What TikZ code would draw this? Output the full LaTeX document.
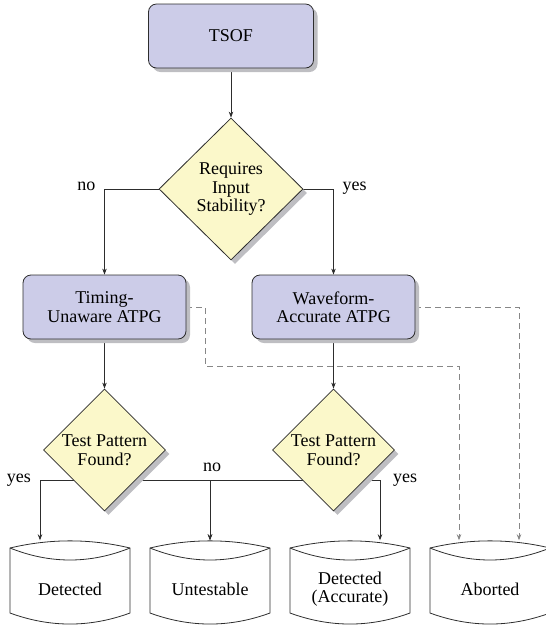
\documentclass[tikz,border=0pt]{standalone}
\usepackage{fontspec}
\setmainfont{Liberation Serif}
\usetikzlibrary{shapes.geometric,shadows,arrows.meta,calc,backgrounds}
\definecolor{boxfill}{RGB}{204,204,232}
\definecolor{decfill}{RGB}{251,248,202}
\definecolor{lineclr}{RGB}{45,45,45}
\definecolor{dashclr}{RGB}{135,135,135}
\definecolor{shadowclr}{RGB}{190,190,194}
\begin{document}
\begin{tikzpicture}[x=1pt,y=-1pt,
  font=\fontsize{18}{18.5}\selectfont,
  myshadow/.style={drop shadow={shadow xshift=4pt,shadow yshift=-4pt,fill=shadowclr,opacity=1}},
  procbox/.style={rectangle,rounded corners=8pt,draw=lineclr,line width=0.8pt,fill=boxfill,
    minimum width=164pt,minimum height=64pt,align=center,inner sep=2pt,myshadow},
  decbox/.style={diamond,draw=lineclr,line width=0.8pt,fill=decfill,align=center,inner sep=0pt,myshadow},
  termbox/.style={rectangle,draw=none,minimum width=120pt,minimum height=97pt,align=center,inner sep=0pt},
  termline/.style={draw=lineclr,line width=0.8pt},
  flow/.style={draw=lineclr,line width=0.8pt,-{Stealth[length=6pt,width=4.5pt]}},
  dflow/.style={draw=dashclr,line width=0.8pt,dash pattern=on 6pt off 4pt,-{Stealth[length=6pt,width=4.5pt]}},
  lbl/.style={inner sep=0pt}
]
\useasboundingbox (0,0) rectangle (546,625);

% process boxes and decisions
\node[procbox,minimum width=165pt] (tsof) at (231,36) {TSOF};
\node[decbox,minimum width=144pt,minimum height=142pt] (d1) at (231,189) {Requires\\Input\\Stability?};
\node[procbox,minimum width=163pt] (tim) at (104.5,307) {Timing-\\Unaware ATPG};
\node[procbox,minimum width=163pt] (wav) at (333.5,307) {Waveform-\\Accurate ATPG};
\node[decbox,minimum width=122pt,minimum height=122pt] (d2) at (104.5,450) {Test Pattern\\Found?};
\node[decbox,minimum width=122pt,minimum height=122pt] (d3) at (333.5,450) {Test Pattern\\Found?};

% terminal nodes
\node[termbox] (det) at (70,589) {Detected};
\node[termbox] (unt) at (210,589) {Untestable};
\node[termbox] (acc) at (350,589) {Detected\\(Accurate)};
\node[termbox] (abo) at (490,589) {Aborted};

\foreach \n in {det,unt,acc,abo}{
  \begin{scope}[shift={(\n.center)}]
    \draw[termline] (-60,-41) .. controls (-20,-50.5) and (20,-50.5) .. (60,-41)
      -- (60,24) .. controls (20,38.7) and (-20,38.7) .. (-60,24) -- cycle;
    \draw[termline] (-60,-41) .. controls (-20,-25) and (20,-25) .. (60,-41);
  \end{scope}
}

% labels
\node[lbl,anchor=base east] (lno1) at ($(d1.west -| tim.north)+(-9,1.5)$) {no};
\node[lbl,anchor=base west] (lyes1) at ($(d1.east -| wav.north)+(9,1.5)$) {yes};
\node[lbl,anchor=base east] (lyes2) at ($(d2.south west -| det.north)+(-39,1.5)$) {yes};
\node[lbl,anchor=south] (lno2) at ($(d2.south east -| unt.north)+(2,-9)$) {no};
\node[lbl,anchor=base west] (lyes3) at ($(d3.south east -| acc.north)+(43,1.5)$) {yes};

\coordinate (j1) at (205,366);

\begin{pgfonlayer}{background}
\draw[flow] (tsof.south) -- (d1.north);
\draw[flow] (d1.west) -| (tim.north);
\draw[flow] (d1.east) -| (wav.north);
\draw[flow] (tim.south) -- (d2.north);
\draw[flow] (wav.south) -- (d3.north);
\draw[flow] (d2.south west) -| ($(det.north)+(-30,0)$);
\draw[flow] (d2.south east) -| (unt.north);
\draw[flow] (d3.south west) -| (unt.north);
\draw[flow] (d3.south east) -| ($(acc.north)+(30,0)$);
\draw[dflow] (tim.east) -| (j1) -| ($(abo.north)+(-31,0)$);
\draw[dflow] (wav.east) -| ($(abo.north)+(29,0)$);
\end{pgfonlayer}
\end{tikzpicture}
\end{document}
